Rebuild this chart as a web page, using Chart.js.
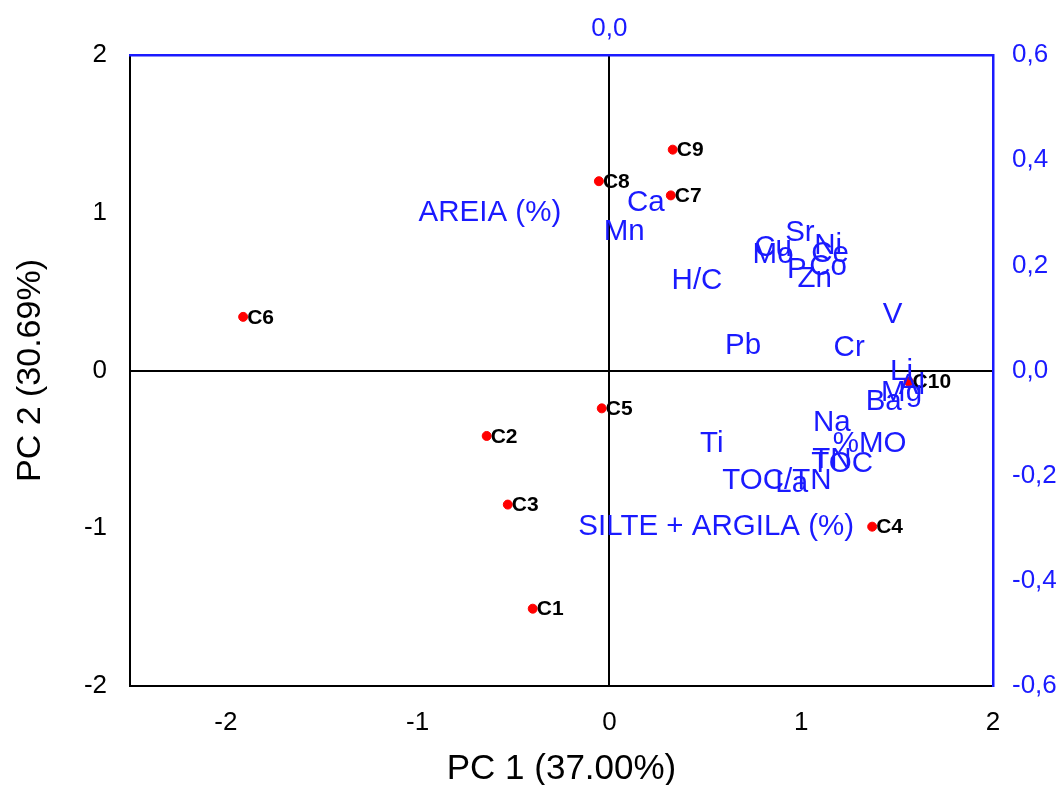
<!DOCTYPE html>
<html>
<head>
<meta charset="utf-8">
<script src="https://cdn.jsdelivr.net/npm/chart.js@4/dist/chart.umd.min.js"></script>
<style>
  body { margin: 0; background: #fff; }
</style>
</head>
<body>
<canvas id="chart" width="1062" height="785"></canvas>
<script>
// Sample scores (PC 1 / PC 2)
const sampleNames = ['C1', 'C2', 'C3', 'C4', 'C5', 'C6', 'C7', 'C8', 'C9', 'C10'];
const scorePC1 = [-0.40, -0.64, -0.53, 1.37, -0.04, -1.91, 0.32, -0.055, 0.33, 1.56];
const scorePC2 = [-1.51, -0.415, -0.85, -0.99, -0.24, 0.34, 1.11, 1.20, 1.40, -0.07];

// Variable loadings (top / right axes)
const variableNames = ['AREIA (%)', 'Ca', 'Mn', 'H/C', 'Sr', 'Cu', 'Mo', 'Ni', 'Ce', 'P', 'Co', 'Zn',
    'V', 'Pb', 'Cr', 'Li', 'Al', 'Mg', 'Ba', 'Na', '%MO', 'TN', 'TOC', 'Ti', 'TOC/TN', 'La',
    'SILTE + ARGILA (%)'];
const loadingX = [-0.187, 0.057, 0.023, 0.137, 0.298, 0.256, 0.256, 0.342, 0.345, 0.293, 0.342, 0.321,
    0.443, 0.209, 0.375, 0.457, 0.473, 0.457, 0.429, 0.348, 0.407, 0.348, 0.364, 0.160, 0.262, 0.285,
    0.167];
const loadingY = [0.300, 0.319, 0.263, 0.170, 0.262, 0.233, 0.220, 0.237, 0.222, 0.191, 0.197, 0.174,
    0.106, 0.047, 0.043, -0.003, -0.029, -0.043, -0.060, -0.100, -0.140, -0.170, -0.178, -0.140, -0.210,
    -0.216, -0.298];

// Tick labels
const pc1Ticks = [-2, -1, 0, 1, 2];
const pc2Ticks = [-2, -1, 0, 1, 2];
const loadXTicks = [0];
const loadYTicks = [-0.6, -0.4, -0.2, 0, 0.2, 0.4, 0.6];

const BLUE = '#1a1aff';
const tickFont = { family: 'Liberation Sans, Arial, sans-serif', size: 26 };
const comma = v => Number(v).toFixed(1).replace('.', ',');
const fixTicks = arr => scale => { scale.ticks = arr.map(v => ({ value: v })); };

// Draw labels next to the points
const labelPlugin = {
    id: 'pointLabels',
    afterDatasetsDraw(chart) {
        const ctx = chart.ctx;
        ctx.save();
        const scores = chart.getDatasetMeta(0);
        ctx.font = 'bold 21px Liberation Sans, Arial, sans-serif';
        ctx.fillStyle = '#000';
        ctx.textAlign = 'left';
        ctx.textBaseline = 'middle';
        scores.data.forEach((pt, i) => ctx.fillText(sampleNames[i], pt.x + 4, pt.y + 1));

        const loads = chart.getDatasetMeta(1);
        ctx.font = '29.5px Liberation Sans, Arial, sans-serif';
        ctx.fillStyle = BLUE;
        ctx.textAlign = 'center';
        loads.data.forEach((pt, i) => ctx.fillText(variableNames[i], pt.x, pt.y));
        ctx.restore();
    }
};

const zeroLine = c => (c.tick && c.tick.value === 0 ? '#000' : 'rgba(0,0,0,0)');

const config = {
    type: 'scatter',
    data: {
        datasets: [{
            label: 'Amostras',
            data: scorePC1.map((x, i) => ({ x: x, y: scorePC2[i] })),
            xAxisID: 'x',
            yAxisID: 'y',
            backgroundColor: '#ff0000',
            borderColor: '#ff0000',
            pointRadius: 4.5,
            pointHoverRadius: 4.5
        }, {
            label: 'Variáveis',
            data: loadingX.map((x, i) => ({ x: x, y: loadingY[i] })),
            xAxisID: 'x2',
            yAxisID: 'y2',
            pointRadius: 0,
            pointHoverRadius: 0
        }]
    },
    options: {
        responsive: false,
        animation: false,
        layout: { padding: 0 },
        plugins: { legend: { display: false }, tooltip: { enabled: false } },
        scales: {
            x: {
                type: 'linear', position: 'bottom', min: -2.5, max: 2,
                afterBuildTicks: fixTicks(pc1Ticks),
                afterFit: s => { s.height = 99; },
                border: { display: true, color: '#000', width: 2 },
                grid: { color: zeroLine, lineWidth: 2, drawTicks: false },
                ticks: { color: '#000', font: tickFont, padding: 21 },
                title: {
                    display: true, text: 'PC 1 (37.00%)', color: '#000',
                    font: { family: 'Liberation Sans, Arial, sans-serif', size: 35, lineHeight: 1 },
                    padding: { top: 0, bottom: -2 }
                }
            },
            y: {
                type: 'linear', position: 'left', min: -2, max: 2,
                afterBuildTicks: fixTicks(pc2Ticks),
                afterFit: s => { s.width = 130; },
                border: { display: true, color: '#000', width: 2 },
                grid: { color: zeroLine, lineWidth: 2, drawTicks: false },
                ticks: { color: '#000', font: tickFont, padding: 23 },
                title: {
                    display: true, text: 'PC 2 (30.69%)', color: '#000',
                    font: { family: 'Liberation Sans, Arial, sans-serif', size: 34, lineHeight: 1 },
                    padding: { top: 14, bottom: 0 }
                }
            },
            x2: {
                type: 'linear', position: 'top', min: -0.75, max: 0.6,
                afterBuildTicks: fixTicks(loadXTicks),
                afterFit: s => { s.height = 55; },
                border: { display: true, color: BLUE, width: 2.5 },
                grid: { display: false },
                ticks: { color: BLUE, font: tickFont, padding: 3, callback: comma }
            },
            y2: {
                type: 'linear', position: 'right', min: -0.6, max: 0.6,
                afterBuildTicks: fixTicks(loadYTicks),
                afterFit: s => { s.width = 69; },
                border: { display: true, color: BLUE, width: 2.5 },
                grid: { display: false },
                ticks: { color: BLUE, font: tickFont, padding: 11, callback: comma }
            }
        }
    },
    plugins: [labelPlugin]
};

new Chart(document.getElementById('chart').getContext('2d'), config);
</script>
</body>
</html>
